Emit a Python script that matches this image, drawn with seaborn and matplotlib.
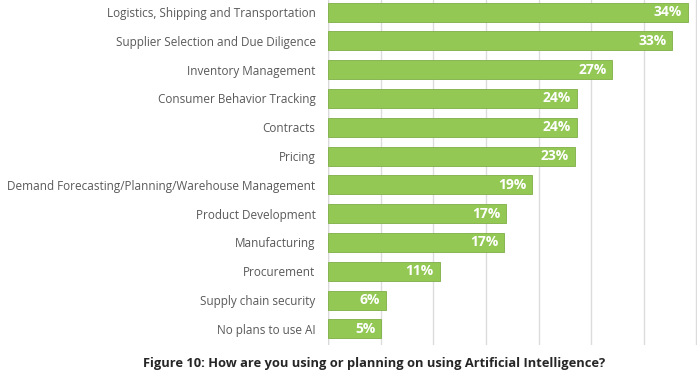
import matplotlib.pyplot as plt
import seaborn as sns
import pandas as pd

categories = [
    "Logistics, Shipping and Transportation",
    "Supplier Selection and Due Diligence",
    "Inventory Management",
    "Consumer Behavior Tracking",
    "Contracts",
    "Pricing",
    "Demand Forecasting/Planning/Warehouse Management",
    "Product Development",
    "Manufacturing",
    "Procurement",
    "Supply chain security",
    "No plans to use AI",
]
values = [34.2, 32.7, 27.0, 23.65, 23.65, 23.45, 19.4, 16.9, 16.7, 10.6, 5.5, 5.05]
labels = ["34%", "33%", "27%", "24%", "24%", "23%", "19%", "17%", "17%", "11%", "6%", "5%"]
title = "Figure 10: How are you using or planning on using Artificial Intelligence?"

df = pd.DataFrame({"category": categories, "value": values})

sns.set_style("white")
plt.rcParams['font.family'] = ['Open Sans', 'DejaVu Sans']

fig = plt.figure(figsize=(7, 3.79), dpi=100)
ax = fig.add_axes([0.4686, 0.0897, 0.527, 0.9103])

sns.barplot(data=df, x="value", y="category", orient="h", color="#92c853",
            saturation=1, width=0.66, ax=ax, zorder=3)
for p in ax.patches:
    p.set_edgecolor("#7fae47")
    p.set_linewidth(0.6)

ax.set_xlim(0, 35.05)
ax.set_ylim(11.56, -0.42)
ax.set_xticks(range(0, 36, 5))
ax.xaxis.grid(True, color="#dcdcdc", linewidth=1, zorder=0)
ax.set_xticklabels([])
ax.tick_params(axis="x", length=0)
ax.tick_params(axis="y", length=0, labelsize=8.5, labelcolor="#595959", pad=9)
ax.set_xlabel("")
ax.set_ylabel("")
for s in ax.spines.values():
    s.set_visible(False)
ax.axvline(0, color="#d9d9d9", linewidth=1, zorder=1)

for i, (v, lab) in enumerate(zip(values, labels)):
    ax.text(v - 0.55, i, lab, ha="right", va="center", color="white",
            fontsize=10, fontweight="bold", zorder=4)

fig.text(0.535, 0.04, title, ha="center", va="center", fontsize=9.3,
         fontweight="bold", color="#262626")

fig.savefig("out.png", dpi=100)
